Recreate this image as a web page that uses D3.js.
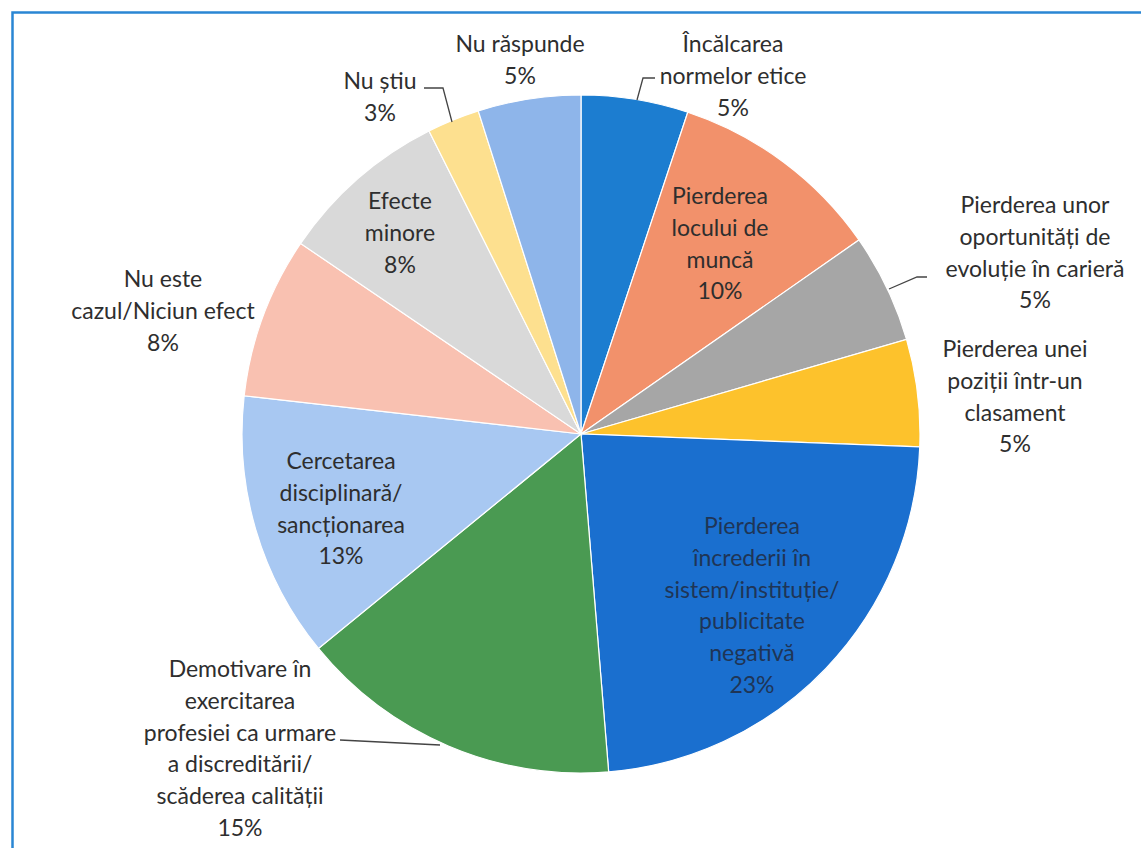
<!DOCTYPE html>
<html><head><meta charset="utf-8">
<script src="https://cdn.jsdelivr.net/npm/d3@7"></script>
<style>
html,body{margin:0;padding:0;background:#fff;}
svg{display:block;font-family:Lato,"Open Sans",sans-serif;}
</style></head>
<body><svg id="c" width="1141" height="848"></svg>
<script>
const categories = [
  "Încălcarea normelor etice",
  "Pierderea locului de muncă",
  "Pierderea unor oportunități de evoluție în carieră",
  "Pierderea unei poziții într-un clasament",
  "Pierderea încrederii în sistem/instituție/publicitate negativă",
  "Demotivare în exercitarea profesiei ca urmare a discreditării/scăderea calității",
  "Cercetarea disciplinară/sancționarea",
  "Nu este cazul/Niciun efect",
  "Efecte minore",
  "Nu știu",
  "Nu răspunde"
];
const values = [5.1, 10.2, 5.2, 5.1, 23.1, 15.4, 12.7, 7.7, 8.1, 2.5, 4.9];
const labelLines = [
  ["Încălcarea","normelor etice"],
  ["Pierderea","locului de","muncă"],
  ["Pierderea unor","oportunități de","evoluție în carieră"],
  ["Pierderea unei","poziții într-un","clasament"],
  ["Pierderea","încrederii în","sistem/instituție/","publicitate","negativă"],
  ["Demotivare în","exercitarea","profesiei ca urmare","a discreditării/","scăderea calității"],
  ["Cercetarea","disciplinară/","sancționarea"],
  ["Nu este","cazul/Niciun efect"],
  ["Efecte","minore"],
  ["Nu știu"],
  ["Nu răspunde"]
];
const colors = ["#1c7dd0","#f2916b","#a6a6a6","#fdc22c","#1a6fcf","#4a9a52","#a8c8f2","#f9c1b1","#d9d9d9","#fde08f","#8eb5ea"];
const labelPos = [[733,43],[720,195],[1035,204],[1015,348],[752,525],[240,668],[341,460],[163,278],[400,200],[380,80],[520,43]];
const leaders = [
  [[655,78],[643,78],[637,100]],
  null,
  [[927,277],[917,277],[889,289]],
  null,null,
  [[340,740],[440,745]],
  null,null,null,
  [[424,88],[443,88],[452,122]],
  null
];

const svg = d3.select("#c");
svg.append("path").attr("d","M12.5,848 L12.5,12.5 L1141,12.5").attr("fill","none").attr("stroke","#2a86d4").attr("stroke-width",2.5);

const cx = 581, cy = 434, r = 339;
const pie = d3.pie().sort(null).value(d=>d);
const arcs = pie(values);
const arc = d3.arc().innerRadius(0).outerRadius(r);
const g = svg.append("g").attr("transform",`translate(${cx},${cy})`);
g.selectAll("path").data(arcs).enter().append("path")
  .attr("d",arc).attr("fill",(d,i)=>colors[i]).attr("stroke","#fff").attr("stroke-width",1.2);

const line = d3.line();
leaders.forEach(pts=>{ if(pts) svg.append("path").attr("d",line(pts)).attr("fill","none").attr("stroke","#444").attr("stroke-width",1.3); });

const lh = 31.8;
labelLines.forEach((lines,i)=>{
  const all = lines.concat([Math.round(values[i])+"%"]);
  const t = svg.append("text").attr("text-anchor","middle").attr("font-size",23)
    .attr("fill", i===4 ? "#1f3556" : "#2e2e2e").attr("dominant-baseline","central");
  all.forEach((s,k)=>{
    t.append("tspan").attr("x",labelPos[i][0]).attr("y",labelPos[i][1]+k*lh).text(s);
  });
});
</script></body></html>
